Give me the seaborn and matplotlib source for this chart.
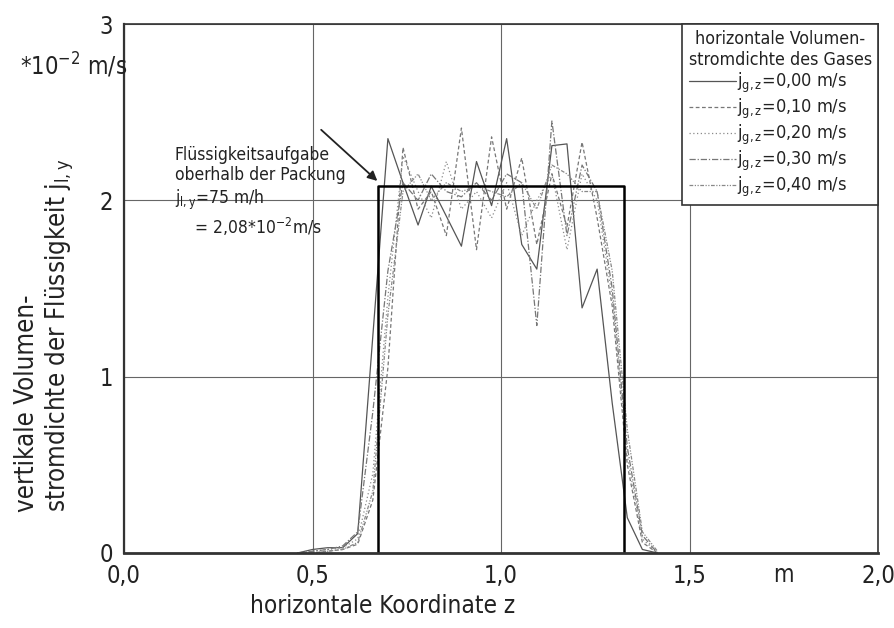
import matplotlib
matplotlib.use("Agg")
import matplotlib.pyplot as plt
import numpy as np
import pandas as pd
import seaborn as sns

# horizontal coordinate z of the measuring points (m)
z = [0.46, 0.50, 0.54, 0.58, 0.62, 0.66, 0.70, 0.74, 0.78, 0.815, 0.855, 0.895,
     0.935, 0.975, 1.015, 1.055, 1.095, 1.135, 1.175, 1.215, 1.255, 1.295,
     1.335, 1.375, 1.415]

# liquid flux j_l,y (*10^-2 m/s) for each gas flux
j_000 = [0.00, 0.02, 0.03, 0.03, 0.11, 1.23, 2.35, 2.10, 1.86, 2.08, 1.91, 1.74,
         2.22, 1.97, 2.35, 1.75, 1.61, 2.31, 2.32, 1.39, 1.61, 0.85, 0.20, 0.02, 0.00]
j_010 = [0.00, 0.00, 0.01, 0.02, 0.05, 0.30, 1.05, 2.30, 1.95, 2.05, 1.80, 2.41,
         1.72, 2.36, 1.95, 2.24, 1.75, 2.15, 1.85, 2.33, 1.90, 1.40, 0.50, 0.06, 0.00]
j_020 = [0.00, 0.01, 0.02, 0.03, 0.08, 0.45, 1.45, 2.25, 2.05, 1.90, 2.22, 1.95,
         2.05, 1.90, 2.10, 1.80, 2.00, 2.15, 1.72, 2.15, 2.00, 1.45, 0.55, 0.08, 0.00]
j_030 = [0.00, 0.01, 0.02, 0.04, 0.12, 0.80, 1.60, 2.10, 2.00, 2.15, 2.05, 2.02,
         2.10, 2.00, 2.15, 2.10, 1.29, 2.45, 1.80, 2.20, 2.05, 1.50, 0.60, 0.10, 0.00]
j_040 = [0.00, 0.00, 0.01, 0.02, 0.06, 0.35, 1.35, 2.05, 2.15, 2.00, 2.10, 2.05,
         2.08, 2.05, 2.02, 2.10, 1.95, 2.20, 2.15, 2.05, 2.05, 1.60, 0.70, 0.12, 0.01]

gas_labels = ["0,00", "0,10", "0,20", "0,30", "0,40"]
series = [j_000, j_010, j_020, j_030, j_040]

# liquid feed above the packing: 75 m/h = 2,08*10^-2 m/s
feed_z = [0.675, 0.675, 1.325, 1.325]
feed_j = [0.0, 2.08, 2.08, 0.0]

x_ticks = [0.0, 0.5, 1.0, 1.5, 2.0]
x_ticklabels = ["0,0", "0,5", "1,0", "1,5", "2,0"]
y_ticks = [0, 1, 2, 3]
y_ticklabels = ["0", "1", "2", "3"]

sns.set_theme(style="white")
plt.rcParams["font.family"] = ["DejaVu Sans"]
plt.rcParams["font.stretch"] = "condensed"
plt.rcParams["mathtext.default"] = "regular"

df = pd.DataFrame({
    "z": np.tile(z, len(series)),
    "j": np.concatenate(series),
    "gas": np.repeat(gas_labels, len(z)),
})

dash_map = {"0,00": "", "0,10": (3, 2), "0,20": (1, 2),
            "0,30": (5, 1.5, 1, 1.5), "0,40": (3, 1.2, 1, 1.2, 1, 1.2)}
gray = {"0,00": "#555555", "0,10": "#777777", "0,20": "#8a8a8a",
        "0,30": "#777777", "0,40": "#888888"}

fig = plt.figure(figsize=(8.94, 6.28), dpi=100)
ax = fig.add_axes([124 / 894, 1 - 553 / 628, (878 - 124) / 894, (553 - 24) / 628])

for lab in gas_labels:
    sub = df[df["gas"] == lab]
    sns.lineplot(data=sub, x="z", y="j", ax=ax, color=gray[lab], lw=0.9,
                 sort=False, estimator=None, legend=False)
    line = ax.lines[-1]
    if dash_map[lab]:
        line.set_dashes(dash_map[lab])
    line.set_label("j$_{g,z}$=" + lab + " m/s")

handles = list(ax.lines)

sns.lineplot(x=feed_z, y=feed_j, ax=ax, color="black", lw=1.8, sort=False,
             estimator=None, legend=False)

ax.set_xlim(0, 2)
ax.set_ylim(0, 3)
ax.set_xticks(x_ticks)
ax.set_xticklabels(x_ticklabels)
ax.set_yticks(y_ticks)
ax.set_yticklabels(y_ticklabels)
ax.tick_params(length=0, labelsize=17, colors="#222222", pad=8)
ax.grid(True, color="#666666", lw=0.8)
ax.set_xlabel("horizontale Koordinate z", fontsize=17.5, color="#222222")
ax.xaxis.set_label_coords(0.343, -0.077)
ax.set_ylabel("")
for side, sp in ax.spines.items():
    sp.set_color("#333333")
    sp.set_linewidth(1.2)
ax.spines["bottom"].set_linewidth(2.0)
ax.spines["left"].set_linewidth(1.6)

# unit next to the last x tick
ax.text(1.75, -0.042, "m", fontsize=17, color="#222222", ha="center", va="center",
        transform=ax.get_xaxis_transform())

# y axis description and unit
fig.text(45 / 894, 1 - 512 / 628,
         "vertikale Volumen-\nstromdichte der Flüssigkeit j$_{l,y}$",
         rotation=90, ha="center", va="bottom", multialignment="left",
         fontsize=18.5, color="#222222", linespacing=1.2)
fig.text(20 / 894, 1 - 65 / 628, "*10$^{-2}$ m/s", fontsize=17,
         color="#222222", va="center", ha="left")

# annotation of the liquid feed
ax.text(0.135, 2.31,
        "Flüssigkeitsaufgabe\noberhalb der Packung\nj$_{l,y}$=75 m/h\n"
        "    = 2,08*10$^{-2}$m/s",
        fontsize=12.5, color="#222222", va="top", ha="left", linespacing=1.2)
ax.annotate("", xy=(0.672, 2.11), xytext=(0.523, 2.40),
            arrowprops=dict(arrowstyle="-|>", color="#222222", lw=1.3,
                            mutation_scale=14, shrinkA=0, shrinkB=0))

leg = ax.legend(handles=handles,
                title="horizontale Volumen-\nstromdichte des Gases",
                loc="upper right", borderaxespad=0, frameon=True, fancybox=False,
                framealpha=1, edgecolor="#333333", fontsize=13,
                title_fontsize=12.8, handlelength=2.6, handletextpad=0.1,
                labelspacing=0.1, borderpad=0.35)
leg._legend_box.align = "left"
leg.get_title().set_multialignment("center")
leg.get_frame().set_linewidth(1.2)
for t in leg.get_texts():
    t.set_color("#222222")
leg.get_title().set_color("#222222")

fig.savefig("out.png", dpi=100)
